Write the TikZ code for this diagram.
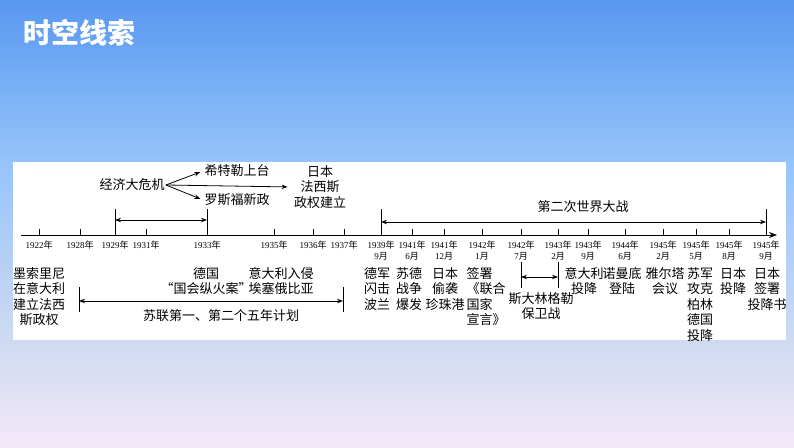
\documentclass[tikz,border=0pt]{standalone}
\usepackage{fontspec}
\setmainfont{Noto Sans CJK SC}
\newfontfamily\numfont{Liberation Serif}
\usetikzlibrary{arrows.meta}
\usepackage{xcolor}
\definecolor{bgtop}{RGB}{88,152,240}
\definecolor{bgmid}{RGB}{150,196,250}
\definecolor{bglow}{RGB}{206,218,242}
\definecolor{bgbot}{RGB}{244,232,248}
\tikzset{
  evt/.style={font=\fontsize{13}{15.5}\selectfont,align=center,anchor=north,inner sep=1pt},
  yrlab/.style={font=\fontsize{9}{11}\selectfont,align=center,anchor=north,inner sep=0pt},
  tickmark/.style={line width=0.8pt},
}

\begin{document}
\begin{tikzpicture}[x=1pt,y=-1pt,>={Stealth[length=6pt,width=4.5pt]},line width=0.8pt]
\useasboundingbox (0,0) rectangle (794,447);
% background and panel
\shade[top color=bgtop,bottom color=bgmid] (0,0) rectangle (794,162);
\shade[top color=bgmid,bottom color=bglow] (0,162) rectangle (794,340);
\shade[top color=bglow,bottom color=bgbot] (0,340) rectangle (794,447);
\fill[white] (13,162) rectangle (786,340);
\node[anchor=west,text=white,font=\fontsize{28}{30}\selectfont\bfseries] (title) at (20,33) {时空线索};

% time axis
\coordinate (ax0) at (21,235);
\coordinate (ax1) at (777,235);
\draw[-{Stealth[length=8pt,width=6pt]}] (ax0) -- (ax1);
\foreach \x/\yy [count=\i] in {39/1922,80/1928,115/1929,146/1931,207/1933,274/1935,313/1936,344/1937}{
  \coordinate (t\i) at (\x,235);
  \draw[tickmark] (t\i) -- ++(0,-6);
  \node[yrlab] (y\i) at (\x,240) {{\numfont\yy}年};
}
\foreach \x/\yy/\mo [count=\i from 9] in {381/1939/9,412/1941/6,444/1941/12,482/1942/1,521/1942/7,558/1943/2,588/1943/9,625/1944/6,663/1945/2,696/1945/5,729/1945/8,766/1945/9}{
  \coordinate (t\i) at (\x,235);
  \draw[tickmark] (t\i) -- ++(0,-6);
  \node[yrlab] (y\i) at (\x,240) {{\numfont\yy}年\\{\numfont\mo}月};
}

% above the axis
\node[evt,anchor=center] (crisis) at (132,185) {经济大危机};
\node[evt,anchor=center] (hitler) at (237,171) {希特勒上台};
\node[evt,anchor=center] (fdr) at (237,200) {罗斯福新政};
\node[evt,anchor=center] (japan) at (320,187) {日本\\法西斯\\政权建立};
\draw[->,shorten >=3pt] (crisis.east) -- (hitler.west);
\draw[->,shorten >=3pt] (crisis.east) -- (fdr.west);
\draw[->,shorten >=5pt] (crisis.east) -- (japan.west);

\coordinate (b1) at (115,209);
\coordinate (b2) at (207,209);
\coordinate (b3) at (381,209);
\coordinate (b4) at (766,209);
\draw (b1) -- (t3);
\draw (b2) -- (t5);
\draw (b3) -- (t9);
\draw (b4) -- (t20);
\coordinate (a1) at (115,220);
\coordinate (a2) at (207,220);
\draw[<->] (a1) -- (a2);
\coordinate (w1) at (381,222);
\coordinate (w2) at (766,222);
\draw[<->] (w1) -- (w2);
\node[evt,anchor=center] (ww2) at (583,207) {第二次世界大战};

% below the axis
\node[evt] (mussolini) at (39,266) {墨索里尼\\在意大利\\建立法西\\斯政权};
\node[evt] (reichstag) at (206,266) {德国\\“国会纵火案”};
\node[evt] (ethiopia) at (281,266) {意大利入侵\\埃塞俄比亚};
\node[evt] (poland) at (377,266) {德军\\闪击\\波兰};
\node[evt] (ussrwar) at (409,266) {苏德\\战争\\爆发};
\node[evt] (pearl) at (445,266) {日本\\偷袭\\珍珠港};
\node[evt,align=left] (unidecl) at (486,266) {签署\\《联合\\国家\\宣言》};
\node[evt] (italy) at (584,266) {意大利\\投降};
\node[evt] (normandy) at (622,266) {诺曼底\\登陆};
\node[evt] (yalta) at (665,266) {雅尔塔\\会议};
\node[evt] (berlin) at (700,266) {苏军\\攻克\\柏林\\德国\\投降};
\node[evt] (jpsur) at (733,266) {日本\\投降};
\node[evt] (jpsign) at (767,266) {日本\\签署\\投降书};

\coordinate (c1) at (79,287);
\coordinate (c2) at (79,312);
\coordinate (c3) at (343,287);
\coordinate (c4) at (343,312);
\draw (c1) -- (c2);
\draw (c3) -- (c4);
\coordinate (p1) at (79,301);
\coordinate (p2) at (343,301);
\draw[<->] (p1) -- (p2);
\node[evt,anchor=center] (fyp) at (221,316) {苏联第一、第二个五年计划};

\coordinate (s1) at (521,262);
\coordinate (s2) at (521,288);
\coordinate (s3) at (558,262);
\coordinate (s4) at (558,288);
\draw (s1) -- (s2);
\draw (s3) -- (s4);
\coordinate (q1) at (521,277);
\coordinate (q2) at (558,277);
\draw[<->] (q1) -- (q2);
\node[evt] (stalin) at (541,291) {斯大林格勒\\保卫战};
\end{tikzpicture}
\end{document}
